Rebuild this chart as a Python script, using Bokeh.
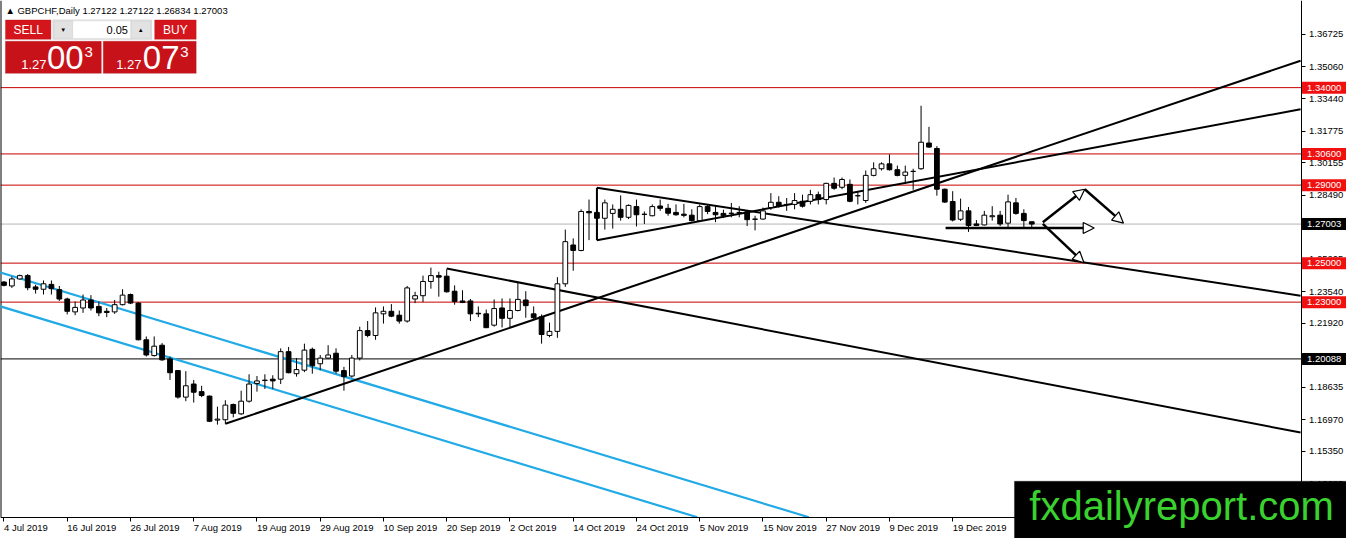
from bokeh.plotting import figure
from bokeh.models import (ColumnDataSource, Label, LabelSet, BoxAnnotation,
                          Arrow, NormalHead, FixedTicker, Range1d, PrintfTickFormatter)
from bokeh.embed import file_html
from bokeh.resources import INLINE
from bokeh.core.properties import value

# ---------------- data (GBPCHF daily) ----------------
open_ = [1.2403,1.2383,1.2419,1.2436,1.2378,1.2366,1.2391,1.2364,1.2316,1.2250,
 1.2270,1.2311,1.2278,1.2253,1.2250,1.2287,1.2339,1.2295,1.2107,1.2026,
 1.2079,1.2009,1.1949,1.1813,1.1880,1.1841,1.1818,1.1695,1.1697,1.1775,
 1.1727,1.1792,1.1883,1.1898,1.1905,1.1905,1.2046,1.1933,1.1951,1.2058,
 1.1984,1.2013,1.2038,1.1949,1.1921,1.2013,1.2154,1.2129,1.2240,1.2253,
 1.2233,1.2203,1.2316,1.2333,1.2406,1.2436,1.2433,1.2356,1.2306,1.2306,
 1.2243,1.2240,1.2182,1.2270,1.2217,1.2257,1.2311,1.2240,1.2225,1.2129,
 1.2150,1.2394,1.2593,1.2565,1.2765,1.2760,1.2730,1.2755,1.2776,1.2735,
 1.2790,1.2751,1.2743,1.2793,1.2781,1.2760,1.2751,1.2746,1.2718,1.2790,
 1.2760,1.2755,1.2756,1.2760,1.2763,1.2726,1.2726,1.2785,1.2812,1.2801,
 1.2801,1.2817,1.2817,1.2851,1.2826,1.2909,1.2889,1.2904,1.2846,1.2821,
 1.2950,1.2984,1.3009,1.2979,1.2950,1.2970,1.2984,1.3116,1.3088,1.2879,
 1.2816,1.2725,1.2768,1.2701,1.2696,1.2738,1.2746,1.2705,1.2809,1.2755,
 1.27122]
high_ = [1.2408,1.2431,1.2441,1.2444,1.2389,1.2411,1.2411,1.2383,1.2323,1.2303,
 1.2339,1.2336,1.2303,1.2270,1.2311,1.2366,1.2344,1.2300,1.2124,1.2124,
 1.2090,1.2021,1.1951,1.1946,1.1901,1.1871,1.1821,1.1764,1.1797,1.1780,
 1.1846,1.1930,1.1921,1.1930,1.1925,1.2063,1.2070,1.2013,1.2087,1.2067,
 1.2029,1.2079,1.2063,1.1968,1.2029,1.2174,1.2203,1.2273,1.2278,1.2290,
 1.2257,1.2383,1.2353,1.2436,1.2477,1.2456,1.2469,1.2386,1.2361,1.2316,
 1.2278,1.2262,1.2314,1.2319,1.2319,1.2398,1.2356,1.2278,1.2237,1.2195,
 1.2428,1.2672,1.2627,1.2776,1.2826,1.2776,1.2826,1.2801,1.2847,1.2801,
 1.2826,1.2765,1.2801,1.2826,1.2804,1.2801,1.2804,1.2776,1.2801,1.2797,
 1.2792,1.2774,1.2809,1.2792,1.2768,1.2743,1.2785,1.2859,1.2843,1.2834,
 1.2859,1.2851,1.2876,1.2867,1.2912,1.2939,1.2939,1.2929,1.2867,1.2975,
 1.3017,1.3017,1.3058,1.3000,1.3000,1.2984,1.3307,1.3199,1.3100,1.2882,
 1.2869,1.2831,1.2788,1.2721,1.2768,1.2792,1.2768,1.2851,1.2834,1.2776,
 1.27122]
low_ = [1.2381,1.2373,1.2416,1.2361,1.2344,1.2339,1.2339,1.2306,1.2237,1.2233,
 1.2245,1.2257,1.2228,1.2223,1.2240,1.2283,1.2290,1.2104,1.2021,1.2021,
 1.1999,1.1901,1.1805,1.1792,1.1785,1.1813,1.1685,1.1672,1.1676,1.1709,
 1.1722,1.1785,1.1841,1.1855,1.1855,1.1880,1.1935,1.1918,1.1941,1.1933,
 1.1951,1.2008,1.1934,1.1846,1.1913,1.2001,1.2120,1.2107,1.2190,1.2223,
 1.2190,1.2195,1.2295,1.2300,1.2369,1.2328,1.2349,1.2287,1.2295,1.2203,
 1.2223,1.2167,1.2174,1.2170,1.2170,1.2253,1.2220,1.2212,1.2087,1.2120,
 1.2117,1.2378,1.2461,1.2561,1.2618,1.2627,1.2672,1.2677,1.2718,1.2726,
 1.2688,1.2701,1.2740,1.2768,1.2743,1.2743,1.2735,1.2713,1.2713,1.2751,
 1.2710,1.2731,1.2735,1.2735,1.2690,1.2668,1.2723,1.2773,1.2785,1.2768,
 1.2776,1.2785,1.2801,1.2801,1.2801,1.2876,1.2879,1.2812,1.2801,1.2809,
 1.2945,1.2975,1.2975,1.2945,1.2906,1.2876,1.2979,1.3091,1.2846,1.2809,
 1.2714,1.2716,1.2660,1.2690,1.2693,1.2718,1.2690,1.2685,1.2748,1.2685,
 1.26834]
close_ = [1.2386,1.2419,1.2436,1.2374,1.2366,1.2394,1.2369,1.2316,1.2253,1.2273,
 1.2311,1.2270,1.2245,1.2247,1.2287,1.2336,1.2295,1.2107,1.2029,1.2074,
 1.2004,1.1938,1.1813,1.1871,1.1838,1.1821,1.1689,1.1700,1.1772,1.1730,
 1.1792,1.1880,1.1896,1.1900,1.1896,1.2046,1.1938,1.1954,1.2054,1.1974,
 1.2013,1.2029,1.1946,1.1918,1.2013,1.2154,1.2129,1.2245,1.2253,1.2228,
 1.2203,1.2373,1.2333,1.2406,1.2436,1.2428,1.2353,1.2303,1.2298,1.2240,
 1.2240,1.2169,1.2267,1.2217,1.2257,1.2314,1.2282,1.2220,1.2134,1.2150,
 1.2394,1.2610,1.2565,1.2765,1.2758,1.2730,1.2809,1.2776,1.2735,1.2796,
 1.2748,1.2750,1.2790,1.2781,1.2756,1.2748,1.2745,1.2718,1.2790,1.2765,
 1.2748,1.2743,1.2755,1.2759,1.2723,1.2725,1.2768,1.2812,1.2792,1.2800,
 1.2821,1.2792,1.2851,1.2826,1.2909,1.2884,1.2929,1.2817,1.2845,1.2950,
 1.2984,1.3009,1.2979,1.2950,1.2967,1.2971,1.3120,1.3095,1.2879,1.2813,
 1.2721,1.2768,1.2693,1.2693,1.2746,1.2743,1.2701,1.2814,1.2755,1.2718,
 1.27003]

date_labels = ["4 Jul 2019", "16 Jul 2019", "26 Jul 2019", "7 Aug 2019", "19 Aug 2019",
               "29 Aug 2019", "10 Sep 2019", "20 Sep 2019", "2 Oct 2019", "14 Oct 2019",
               "24 Oct 2019", "5 Nov 2019", "15 Nov 2019", "27 Nov 2019", "9 Dec 2019",
               "19 Dec 2019"]
bars_per_label = 8

price_ticks = [1.13685, 1.15350, 1.16970, 1.18635, 1.20255, 1.21920, 1.23540, 1.25205,
               1.26870, 1.28490, 1.30155, 1.31775, 1.33440, 1.35060, 1.36725]
red_levels = [1.34000, 1.30600, 1.29000, 1.25000, 1.23000]
black_level = 1.20088
bid_price = 1.27003
ask_price = 1.27073
lot_size = "0.05"

# trendlines (bar index, price)
trend_x0 = [28, 56, 75, 75, 75]
trend_y0 = [1.1676, 1.2472, 1.2887, 1.2617, 1.2887]
trend_x1 = [164, 164, 164, 164, 75]
trend_y1 = [1.3538, 1.1631, 1.2333, 1.3289, 1.2617]
# blue channel (ends where it meets the bottom of the chart)
chan_x0 = [-1.0, -1.0]
chan_y0 = [1.2459, 1.2285]
chan_x1 = [101.8, 87.7]
chan_y1 = [1.1197, 1.1197]
# projection arrows
arrow_x0 = [119.1, 131.4, 136.7, 131.4]
arrow_y0 = [1.2680, 1.2710, 1.2879, 1.2701]
arrow_x1 = [137.9, 136.7, 141.6, 136.6]
arrow_y1 = [1.2680, 1.2879, 1.2705, 1.2502]

# ---------------- layout constants ----------------
BAR_PX = 8.0          # reference pixels per bar
PRICE_PX = 0.000498   # price per reference pixel
REF_W, REF_H = 1362.0, 554.0
CHART_W, CHART_H = 1316.0, 532.0   # chart area inside the reference window
X0 = -0.44
Y1 = 1.38468
XA = X0 + CHART_W / BAR_PX           # right price axis location
YA = Y1 - CHART_H * PRICE_PX         # bottom time axis location
XE = X0 + REF_W / BAR_PX
YE = Y1 - REF_H * PRICE_PX
FONT = "Liberation Sans"

def dx(px):
    return X0 + px / BAR_PX
def dy(py):
    return Y1 - py * PRICE_PX

p = figure(width=1346, height=538, x_range=Range1d(X0, XE), y_range=Range1d(YE, Y1),
           output_backend="svg", toolbar_location=None, y_axis_location="right",
           min_border_left=0, min_border_top=0, min_border_right=0, min_border_bottom=0,
           background_fill_color="white", border_fill_color="white")
p.grid.visible = False
p.outline_line_color = None

xa = p.xaxis[0]
tick_pos = [k * bars_per_label for k in range(len(date_labels))]
xa.fixed_location = YA
xa.ticker = FixedTicker(ticks=tick_pos)
xa.major_label_text_color = None
xa.major_tick_in = 0
xa.major_tick_out = 4
xa.minor_tick_line_color = None
xa.axis_line_color = "black"
xa.major_tick_line_color = "black"

ya = p.yaxis[0]
ya.fixed_location = XA
ya.ticker = FixedTicker(ticks=price_ticks)
ya.formatter = PrintfTickFormatter(format="%.5f")
ya.major_label_text_font = FONT
ya.major_label_text_font_size = "9.5px"
ya.major_label_text_color = "black"
ya.major_label_standoff = 4
ya.major_tick_in = 0
ya.major_tick_out = 4
ya.minor_tick_line_color = None
ya.axis_line_color = "black"
ya.major_tick_line_color = "black"

# horizontal levels (chart area only)
n_red = len(red_levels)
p.segment(x0=[X0] * n_red, y0=red_levels, x1=[XA] * n_red, y1=red_levels,
          line_color="#c80000", line_width=1)
p.segment(x0=[X0], y0=[black_level], x1=[XA], y1=[black_level], line_color="black", line_width=1)
p.segment(x0=[X0], y0=[close_[-1]], x1=[XA], y1=[close_[-1]], line_color="#b4b4b4", line_width=1)
# left border of the chart window
p.segment(x0=[X0], y0=[YA], x1=[X0], y1=[Y1], line_color="black", line_width=2)

# channel + trendlines
p.segment(x0=chan_x0, y0=chan_y0, x1=chan_x1, y1=chan_y1, line_color="#22aae6", line_width=2.2)
p.segment(x0=trend_x0, y0=trend_y0, x1=trend_x1, y1=trend_y1, line_color="black", line_width=2)

# candles
idx = list(range(len(close_)))
src = ColumnDataSource(dict(
    x=idx, o=open_, h=high_, l=low_, c=close_,
    top=[max(a, b) for a, b in zip(open_, close_)],
    bottom=[min(a, b) for a, b in zip(open_, close_)],
    fill=["white" if c > o else "black" for o, c in zip(open_, close_)],
))
p.segment(x0="x", y0="l", x1="x", y1="h", source=src, line_color="black", line_width=1)
p.vbar(x="x", top="top", bottom="bottom", width=0.6, source=src,
       fill_color="fill", line_color="black", line_width=1)

# arrows
for xs, ys, xe, ye in zip(arrow_x0, arrow_y0, arrow_x1, arrow_y1):
    p.add_layout(Arrow(end=NormalHead(size=11, fill_color="white", line_color="black", line_width=1.2),
                       x_start=xs, y_start=ys, x_end=xe, y_end=ye,
                       line_color="black", line_width=2.5))

# date labels (left aligned at their ticks, as in MT4)
dsrc = ColumnDataSource(dict(x=tick_pos, y=[YA] * len(tick_pos), text=date_labels))
p.add_layout(LabelSet(x="x", y="y", text="text", source=dsrc, text_align="left",
                      text_baseline="top", y_offset=-5, x_offset=0,
                      text_font=value(FONT), text_font_size="9.5px", text_color="black"))

# price tags on the axis
def tag(price, bg):
    p.add_layout(Label(x=XA, y=price, x_offset=1, text=f"{price:.5f}", text_color="white",
                       text_font=FONT, text_font_size="9.5px", text_align="left",
                       text_baseline="middle", background_fill_color=bg, background_fill_alpha=1,
                       padding=(5, 3)))

for lv in red_levels:
    tag(lv, "#f01010")
tag(close_[-1], "black")
tag(black_level, "black")

# ---------------- trading panel ----------------
def box(l, t, r, b, fill, line=None, level="annotation"):
    p.add_layout(BoxAnnotation(left=dx(l), right=dx(r), top=dy(t), bottom=dy(b),
                               fill_color=fill, fill_alpha=1,
                               line_color=line if line else fill, line_width=1, level=level))

def txt(x, y, s, size, color="white", align="left", baseline="middle", font=FONT, level="annotation"):
    p.add_layout(Label(x=dx(x), y=dy(y), text=s, text_font_size=f"{size}px", text_color=color,
                       text_align=align, text_baseline=baseline, text_font=font, level=level))

header = "\u25B2 GBPCHF,Daily  " + " ".join(f"{v:.5f}" for v in (open_[-1], high_[-1], low_[-1], close_[-1]))
txt(5, 10, header, 9.5, color="black")

box(5, 20, 51, 40, "#d4161c", "#a80c10")
txt(28, 30, "SELL", 12, align="center")
box(53, 20, 153, 40, "#f2f2f2", "#9a9a9a")
box(54, 21, 73, 39, "#e2e2e2", "#b0b0b0")
box(73, 21, 132, 39, "white", "#c8c8c8")
box(132, 21, 152, 39, "#e2e2e2", "#b0b0b0")
txt(63.5, 30, "\u25BC", 6, color="black", align="center")
txt(142, 30, "\u25B2", 6, color="black", align="center")
txt(129, 30, lot_size, 11, color="black", align="right")
box(156, 20, 198, 40, "#d4161c", "#a80c10")
txt(177, 30, "BUY", 12, align="center")

box(5, 42, 102, 75, "#c8121a", "#a00a10")
box(104, 42, 198, 75, "#c8121a", "#a00a10")
bid_s = f"{bid_price:.5f}"
ask_s = f"{ask_price:.5f}"
txt(21, 66, bid_s[:4], 13)
txt(47, 59, bid_s[4:6], 33)
txt(85, 53, bid_s[6:], 15)
txt(117, 66, ask_s[:4], 13)
txt(144, 59, ask_s[4:6], 33)
txt(182, 53, ask_s[6:], 15)

# watermark
box(1026, 495, 1370, 560, "black", "black", level="overlay")
txt(1041, 521, "fxdailyreport.com", 40, color="#3ad22e", level="overlay")

open("out.html", "w").write(file_html(p, INLINE))
